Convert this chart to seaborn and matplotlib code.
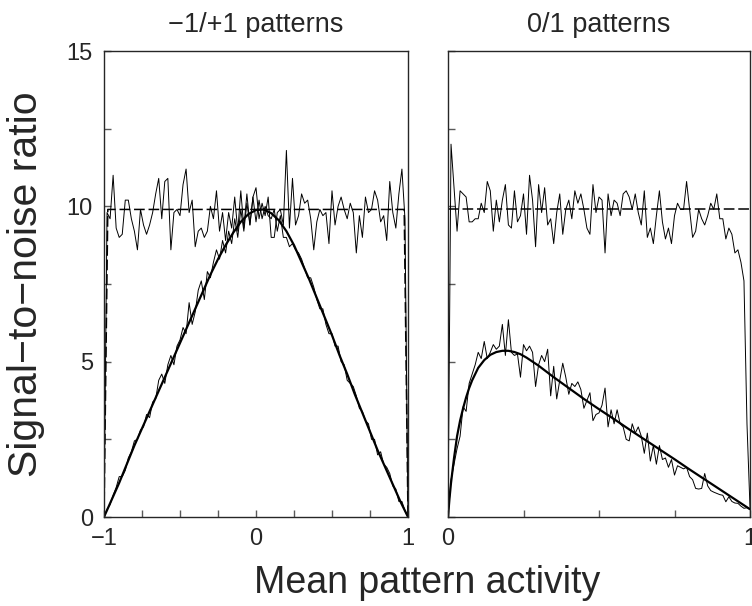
import numpy as np
import matplotlib
matplotlib.use("Agg")
import matplotlib.pyplot as plt
import seaborn as sns
from matplotlib.ticker import MultipleLocator

sns.set_style("ticks")
plt.rcParams['font.family'] = ['Liberation Sans', 'DejaVu Sans']
plt.rcParams['axes.unicode_minus'] = True

# ---- 左图: -1/+1 patterns ----
pm_x_noisy = np.linspace(-1, 1, 101)
pm_flat_noisy = [
    0.0, 9.8, 9.6, 11.0, 9.3, 9.0, 9.1, 10.2, 10.2, 9.6,
    9.2, 8.6, 9.9, 9.4, 9.1, 9.4, 9.8, 10.4, 10.9, 9.6,
    10.8, 10.9, 8.6, 9.8, 9.9, 9.7, 10.7, 11.2, 9.8, 10.2,
    8.7, 9.2, 9.3, 9.0, 9.2, 10.0, 9.6, 10.5, 9.2, 9.8,
    8.9, 9.8, 9.3, 10.3, 9.2, 10.5, 9.3, 10.4, 9.4, 10.3,
    10.6, 9.6, 10.1, 9.7, 10.3, 9.0, 9.0, 9.8, 9.9, 9.4,
    11.8, 9.3, 10.9, 9.4, 9.7, 10.4, 10.1, 10.2, 9.6, 8.6,
    9.5, 9.9, 9.7, 9.8, 8.8, 10.5, 9.4, 10.0, 10.3, 9.9,
    9.6, 10.1, 9.8, 8.5, 9.7, 9.0, 10.3, 9.8, 9.9, 10.5,
    10.2, 9.5, 9.7, 8.9, 10.8, 9.8, 9.3, 10.4, 11.2, 9.6,
    0.0]
pm_bell_noisy = [
    0.0, 0.25, 0.4, 0.7, 0.95, 1.3, 1.3, 1.5, 1.9, 2.1,
    2.45, 2.5, 2.8, 2.9, 3.3, 3.2, 3.7, 3.8, 4.4, 4.6,
    4.3, 4.9, 5.2, 4.9, 5.5, 5.7, 6.1, 5.9, 6.9, 6.2,
    6.6, 7.3, 7.6, 7.0, 7.9, 7.7, 8.2, 8.6, 8.3, 8.9,
    8.5, 9.2, 8.8, 9.6, 9.0, 9.9, 9.2, 10.1, 9.4, 10.3,
    9.5, 10.2, 9.6, 10.0, 9.7, 9.6, 9.9, 9.2, 9.7, 9.0,
    9.0, 8.7, 8.8, 8.6, 8.5, 8.3, 8.0, 7.7, 7.7, 7.4,
    7.0, 6.7, 6.7, 6.2, 5.9, 5.9, 5.5, 5.5, 5.0, 4.9,
    4.4, 4.3, 4.2, 3.9, 3.5, 3.4, 3.1, 3.0, 2.5, 2.5,
    2.0, 2.1, 1.7, 1.6, 1.4, 1.0, 0.9, 0.5, 0.5, 0.2,
    0.0]
pm_x_theory = np.linspace(-1, 1, 41)
pm_bell_theory = [
    0.0, 0.55, 1.1, 1.7, 2.3, 2.85, 3.4, 3.95, 4.5, 5.05,
    5.6, 6.15, 6.7, 7.25, 7.8, 8.3, 8.75, 9.15, 9.5, 9.75,
    9.88, 9.9, 9.78, 9.55, 9.2, 8.75, 8.2, 7.65, 7.05, 6.45,
    5.85, 5.2, 4.6, 3.95, 3.35, 2.75, 2.15, 1.6, 1.05, 0.5,
    0.0]
pm_flat_x = [-1.0, -0.975, 0.975, 1.0]
pm_flat_theory = [0.0, 9.9, 9.9, 0.0]

# ---- 右图: 0/1 patterns ----
zo_x_noisy = np.linspace(0, 1, 101)
zo_flat_noisy = [
    0.0, 12.0, 10.6, 9.2, 10.5, 10.4, 10.3, 9.5, 9.5, 9.6,
    9.6, 10.1, 9.8, 10.8, 10.5, 9.2, 10.2, 9.5, 10.2, 10.7,
    9.4, 9.3, 10.5, 9.5, 9.7, 10.4, 9.1, 11.0, 10.2, 8.7,
    10.7, 9.8, 10.6, 9.4, 9.6, 8.8, 9.8, 10.4, 9.1, 9.9,
    10.2, 9.6, 10.5, 10.1, 10.4, 9.9, 9.3, 9.1, 10.7, 9.8,
    10.3, 10.2, 8.5, 10.4, 9.7, 10.2, 10.1, 9.7, 10.4, 10.5,
    10.3, 9.9, 10.4, 9.8, 9.4, 10.5, 9.0, 9.3, 8.8, 9.7,
    10.5, 9.5, 8.95, 9.3, 8.8, 9.7, 10.1, 9.9, 9.9, 10.8,
    9.9, 9.0, 9.2, 9.9, 9.6, 9.4, 9.7, 10.1, 9.9, 10.4,
    9.6, 9.6, 8.95, 9.3, 9.1, 8.5, 8.6, 8.2, 7.6, 3.0,
    0.3]
zo_bell_noisy = [
    0.0, 1.2, 1.7, 2.2, 2.6, 3.55, 3.4, 4.3, 4.6, 4.9,
    5.3, 5.1, 5.65, 5.1, 5.3, 5.55, 5.4, 5.5, 6.2, 5.2,
    6.35, 5.3, 5.2, 5.25, 4.5, 5.55, 5.35, 5.5, 5.3, 4.2,
    4.9, 5.2, 5.0, 5.4, 3.9, 4.85, 3.8, 4.4, 4.95, 4.5,
    3.95, 4.3, 4.2, 4.35, 4.1, 3.5, 3.75, 4.0, 3.1, 3.3,
    3.35, 3.6, 4.15, 2.9, 3.45, 3.0, 3.45, 3.0, 2.9, 2.5,
    2.45, 3.0, 2.7, 2.9, 2.6, 2.05, 2.7, 1.8, 2.3, 1.7,
    2.3, 1.85, 1.9, 1.6, 1.85, 1.35, 1.65, 1.6, 1.55, 1.6,
    1.3, 1.2, 0.92, 0.9, 0.92, 1.4, 1.0, 0.85, 0.8, 0.76,
    0.72, 0.7, 0.49, 0.65, 0.5, 0.45, 0.44, 0.35, 0.28, 0.3,
    0.25]
zo_x_theory = [0.0, 0.005, 0.01, 0.02, 0.03, 0.04, 0.05, 0.06, 0.07, 0.08,
               0.10, 0.12, 0.14, 0.16, 0.18, 0.20, 0.22, 0.24, 0.26, 0.28,
               0.30, 0.35, 0.40, 0.45, 0.50, 0.55, 0.60, 0.65, 0.70, 0.75,
               0.80, 0.85, 0.90, 0.95, 1.0]
zo_bell_theory = [0.0, 0.6, 1.1, 1.9, 2.6, 3.1, 3.5, 3.85, 4.15, 4.4,
                  4.8, 5.05, 5.22, 5.31, 5.35, 5.35, 5.31, 5.24, 5.13, 5.0,
                  4.87, 4.5, 4.15, 3.8, 3.47, 3.15, 2.82, 2.5, 2.18, 1.86,
                  1.53, 1.21, 0.89, 0.57, 0.25]
zo_flat_x = [0.0, 1.0]
zo_flat_theory = [9.9, 9.9]

titles = ["\u22121/+1 patterns", "0/1 patterns"]

W, H = 752, 606
fig = plt.figure(figsize=(W / 100, H / 100), dpi=100)
ax1 = fig.add_axes([104 / W, (H - 517) / H, 304 / W, 466 / H])
ax2 = fig.add_axes([448 / W, (H - 517) / H, 302 / W, 466 / H])

dash = (0, (7, 2.5))

def draw(ax, xn, flat_n, bell_n, xt, bell_t, xf, flat_t):
    sns.lineplot(x=xn, y=flat_n, ax=ax, color='k', lw=0.7, sort=False)
    sns.lineplot(x=xn, y=bell_n, ax=ax, color='k', lw=0.7, sort=False)
    sns.lineplot(x=xt, y=bell_t, ax=ax, color='k', lw=1.6, sort=False)
    sns.lineplot(x=xf, y=flat_t, ax=ax, color='k', lw=1.1, linestyle=dash, sort=False)

draw(ax1, pm_x_noisy, pm_flat_noisy, pm_bell_noisy, pm_x_theory, pm_bell_theory,
     pm_flat_x, pm_flat_theory)
draw(ax2, zo_x_noisy, zo_flat_noisy, zo_bell_noisy, zo_x_theory, zo_bell_theory,
     zo_flat_x, zo_flat_theory)

ax1.set_xlim(-1, 1)
ax1.set_xticks([-1, 0, 1])
ax1.set_xticklabels(["\u22121", "0", "1"])
ax2.set_xlim(0, 1)
ax2.set_xticks([0, 1])
ax2.set_xticklabels(["0", "1"])

for ax, t in zip([ax1, ax2], titles):
    ax.set_ylim(0, 15)
    ax.set_yticks([0, 5, 10, 15])
    ax.xaxis.set_minor_locator(MultipleLocator(0.25))
    ax.yaxis.set_minor_locator(MultipleLocator(2.5))
    ax.tick_params(which='both', direction='in', length=5, width=1,
                   color='0.35', labelsize=17, pad=8, top=False, right=False)
    for s in ax.spines.values():
        s.set_visible(True)
        s.set_linewidth(1.0)
        s.set_color('0.15')
    ax.set_title(t, fontsize=19.5, pad=14)
    ax.set_xlabel("")
    ax.set_ylabel("")

ax2.tick_params(labelleft=False)
ax1.set_yticklabels(["0", "5", "10", "15"])

fig.text(427 / W, (H - 583) / H, "Mean pattern activity", ha='center', va='center',
         fontsize=27)
fig.text(26 / W, (H - 284) / H, "Signal\u2212to\u2212noise ratio", ha='center',
         va='center', rotation=90, fontsize=29.5)

fig.savefig("out.png", dpi=100)
